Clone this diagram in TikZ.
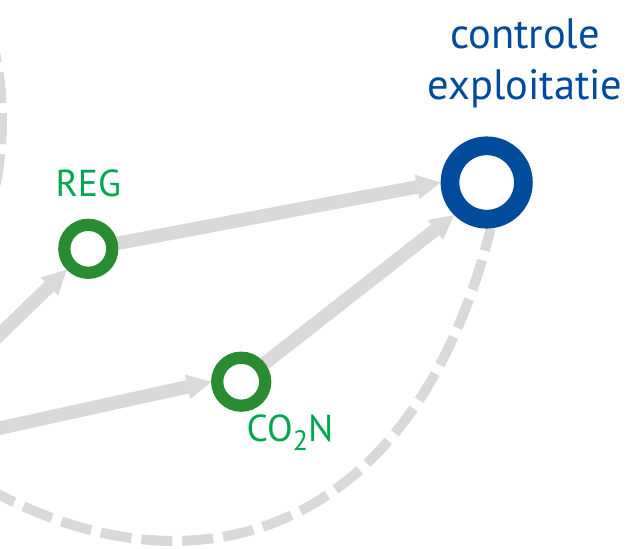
\documentclass[tikz,border=0pt]{standalone}
\usepackage{fontspec}
\setmainfont{PT Sans}
\usetikzlibrary{arrows.meta,backgrounds}
\definecolor{cblue}{RGB}{0,75,155}
\definecolor{cring}{RGB}{42,140,48}
\definecolor{ctext}{RGB}{0,166,81}
\definecolor{cgray}{RGB}{217,217,217}
\tikzset{
  bluering/.style={circle, draw=cblue, line width=18.7pt, fill=white, minimum size=73.4pt, inner sep=0pt},
  greenring/.style={circle, draw=cring, line width=12.2pt, fill=white, minimum size=48pt, inner sep=0pt},
  flowarrow/.style={draw=cgray, line width=13.5pt, -{Triangle[length=24pt,width=25pt,line width=0pt]}},
  dashedflow/.style={draw=cgray, line width=10pt, dash pattern=on 31pt off 10pt, dash phase=8pt},
  bluelabel/.style={text=cblue, font=\fontsize{42.5pt}{51.7pt}\selectfont, align=center, inner sep=0pt},
  greenlabel/.style={text=ctext, font=\fontsize{37.5pt}{45pt}\selectfont, inner sep=0pt},
}
\begin{document}
\begin{tikzpicture}[x=1pt,y=-1pt]
\useasboundingbox (0,0) rectangle (628,548);
\node[bluering] (blue) at (486.7,182.5) {};
\node[greenring] (reg) at (88.3,248.8) {};
\node[greenring] (co2n) at (241.2,381.7) {};
\node[bluelabel, anchor=base] (title) at (525,100) {controle\\exploitatie};
\node[greenlabel, anchor=base] (reglabel) at (88.3,196.7) {REG};
\node[greenlabel, anchor=base west] (colabel) at (246.5,441.7) {CO\raisebox{-8.3pt}{\fontsize{28pt}{28pt}\selectfont 2}N};
\coordinate (inreg) at (-40,373);
\coordinate (inco) at (-40,436.8);
\coordinate (loopend) at (-20,484);
\coordinate (arcstart) at (-8,40);
\coordinate (arcend) at (-8,200);
\begin{scope}[on background layer]
\draw[flowarrow] (inreg) -- (reg);
\draw[flowarrow] (inco) -- (co2n.west);
\draw[flowarrow] (reg) -- (blue.west);
\draw[flowarrow] (co2n) -- (blue.south west);
\draw[dashedflow] (blue.-85) .. controls (410,550) and (180,600) .. (loopend);
\draw[dashedflow] (arcstart) .. controls (5.3,90) and (5.3,150) .. (arcend);
\end{scope}
\end{tikzpicture}
\end{document}
